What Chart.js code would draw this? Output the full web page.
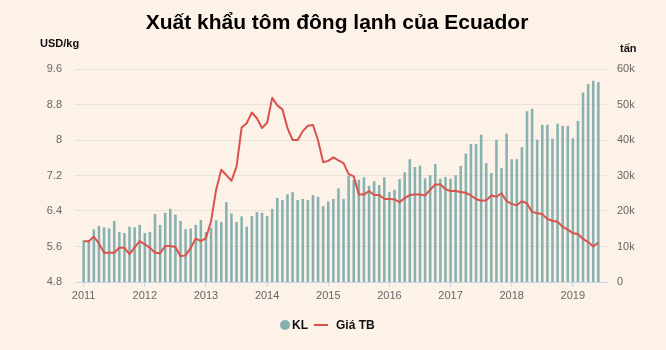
<!DOCTYPE html>
<html lang="vi">
<head>
<meta charset="utf-8">
<title>Xuất khẩu tôm đông lạnh của Ecuador</title>
<script src="https://cdn.jsdelivr.net/npm/chart.js@4/dist/chart.umd.min.js"></script>
<style>
  html, body { margin: 0; padding: 0; background: #fcf2e8; }
  #wrap { position: relative; width: 666px; height: 350px; background: #fcf2e8;
          font-family: "Liberation Sans", Arial, sans-serif; }
  #chart { position: absolute; left: 0; top: 0; }
  .title { position: absolute; left: 0; width: 674px; top: 10px; text-align: center;
           font-size: 21px; font-weight: bold; color: #000; }
  .unit { position: absolute; font-size: 11px; font-weight: bold; color: #111; }
  .legend { position: absolute; top: 318px; left: 280px; display: flex; align-items: center;
            font-size: 12px; font-weight: bold; color: #111; }
  .legend .dot { width: 10px; height: 10px; border-radius: 50%; background: #86b0b0; margin-right: 2px; }
  .legend .dash { width: 14px; height: 2px; background: #d9534c; margin: 0 8px 0 6px; }
</style>
</head>
<body>
<div id="wrap">
  <canvas id="chart" width="666" height="350"></canvas>
  <div class="title">Xuất khẩu tôm đông lạnh của Ecuador</div>
  <div class="unit" style="left:40px; top:37px;">USD/kg</div>
  <div class="unit" style="left:620px; top:42px;">tấn</div>
  <div class="legend">
    <span class="dot"></span><span>KL</span>
    <span class="dash"></span><span>Giá TB</span>
  </div>
</div>
<script>
// Monthly series, January 2011 – June 2019
const yearLabels = ['2011', '2012', '2013', '2014', '2015', '2016', '2017', '2018', '2019'];

// Export volume (tonnes)
const volume = [
  11600, 11600, 14700, 15700, 15300, 15000, 17100, 14000, 13700, 15500, 15300, 16000,
  13700, 14000, 19100, 16000, 19400, 20500, 18900, 17100, 14800, 15000, 16000, 17400,
  14000, 15200, 17300, 16800, 22400, 19200, 16800, 18400, 15500, 18500, 19600, 19400,
  18500, 20500, 23600, 23000, 24600, 25200, 23000, 23300, 23000, 24400, 23900, 21300,
  22600, 23300, 26300, 23300, 29800, 28700, 28700, 29400, 27000, 28300, 27200, 29400,
  25300, 25900, 28900, 30800, 34500, 32300, 32700, 29100, 30000, 33100, 29000, 29500,
  29000, 30000, 32600, 36100, 38800, 38800, 41400, 33400, 30600, 40000, 32000, 41700,
  34500, 34500, 37900, 48000, 48700, 40000, 44200, 44200, 40300, 44500, 43900, 43900,
  40400, 45300, 53300, 55700, 56600, 56200
];

// Average export price (USD/kg)
const price = [
  5.72, 5.72, 5.82, 5.67, 5.46, 5.46, 5.46, 5.57, 5.57, 5.43, 5.58, 5.72,
  5.65, 5.57, 5.46, 5.45, 5.61, 5.61, 5.59, 5.38, 5.40, 5.57, 5.78, 5.72,
  5.79, 6.17, 6.88, 7.33, 7.21, 7.08, 7.40, 8.28, 8.38, 8.62, 8.49, 8.27,
  8.39, 8.95, 8.78, 8.69, 8.27, 8.00, 8.00, 8.20, 8.32, 8.34, 7.99, 7.50,
  7.53, 7.61, 7.54, 7.48, 7.23, 7.18, 6.77, 6.77, 6.85, 6.76, 6.76, 6.67,
  6.67, 6.66, 6.60, 6.69, 6.76, 6.77, 6.77, 6.75, 6.88, 7.00, 7.00, 6.89,
  6.85, 6.85, 6.83, 6.81, 6.75, 6.67, 6.63, 6.64, 6.75, 6.72, 6.80, 6.62,
  6.56, 6.53, 6.62, 6.57, 6.38, 6.35, 6.33, 6.22, 6.18, 6.16, 6.04, 5.98,
  5.90, 5.88, 5.77, 5.70, 5.60, 5.69
];

const priceTicks = [4.8, 5.6, 6.4, 7.2, 8, 8.8, 9.6];
const volumeTicks = [0, 10000, 20000, 30000, 40000, 50000, 60000];

Chart.defaults.font.family = '"Liberation Sans", Arial, sans-serif';
Chart.defaults.font.size = 11;
Chart.defaults.color = '#666666';

new Chart(document.getElementById('chart'), {
  type: 'bar',
  data: {
    datasets: [
      {
        type: 'line',
        label: 'Giá TB',
        data: price.map((p, i) => ({ x: i, y: p })),
        yAxisID: 'yPrice',
        borderColor: '#d9534c',
        backgroundColor: '#d9534c',
        borderWidth: 2,
        pointRadius: 0,
        tension: 0,
        borderJoinStyle: 'round',
        order: 0
      },
      {
        type: 'bar',
        label: 'KL',
        data: volume.map((v, i) => ({ x: i, y: v })),
        yAxisID: 'yVol',
        backgroundColor: '#88b2b2',
        barThickness: 1.9,
        order: 1
      }
    ]
  },
  options: {
    responsive: false,
    animation: false,
    devicePixelRatio: 1,
    layout: { padding: { top: 69, left: 0, right: 0, bottom: 0 } },
    plugins: { legend: { display: false }, tooltip: { enabled: false }, title: { display: false } },
    scales: {
      x: {
        type: 'linear',
        offset: false,
        min: -1.7,
        max: 102.7,
        afterFit: (s) => { s.height = 68; },
        afterBuildTicks: (axis) => { axis.ticks = yearLabels.map((_, k) => ({ value: k * 12 })); },
        ticks: { callback: (v) => yearLabels[Math.round(v / 12)], padding: 2, maxRotation: 0, autoSkip: false },
        grid: { offset: false, drawOnChartArea: false, drawTicks: true, tickLength: 5, color: '#ccd6eb' },
        border: { display: true, color: '#ccd6eb', width: 1 }
      },
      yPrice: {
        position: 'left',
        min: 4.8,
        max: 9.6,
        afterFit: (s) => { s.width = 75; },
        afterBuildTicks: (axis) => { axis.ticks = priceTicks.map(v => ({ value: v })); },
        ticks: { callback: (v) => String(+v.toFixed(1)), padding: 13 },
        grid: { color: '#e8e2dc', drawTicks: false },
        border: { display: false }
      },
      yVol: {
        position: 'right',
        min: 0,
        max: 60000,
        afterFit: (s) => { s.width = 59; },
        afterBuildTicks: (axis) => { axis.ticks = volumeTicks.map(v => ({ value: v })); },
        ticks: { callback: (v) => v === 0 ? '0' : (v / 1000) + 'k', padding: 10 },
        grid: { display: false, drawTicks: false },
        border: { display: false }
      }
    }
  }
});
</script>
</body>
</html>
